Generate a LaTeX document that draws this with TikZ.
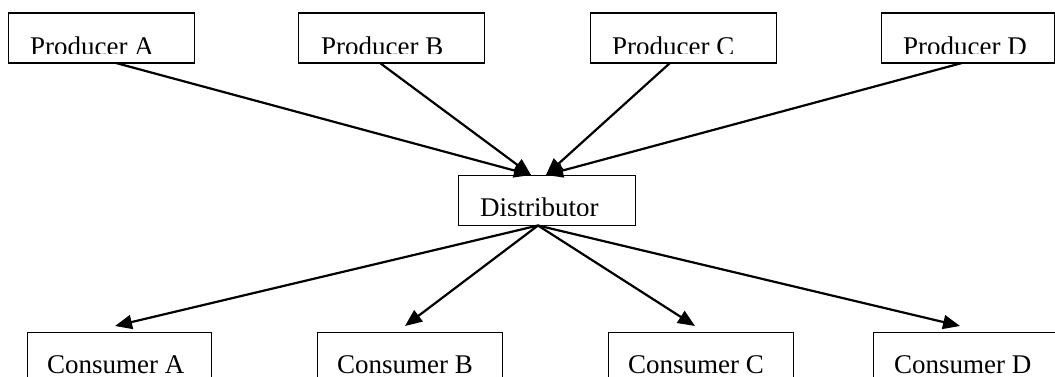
\documentclass[tikz,border=0pt]{standalone}
\usepackage{fontspec}
\setmainfont{Liberation Serif}
\usetikzlibrary{arrows.meta}
\tikzset{
  boxshape/.style={draw=black, line width=1.4pt, rectangle, inner sep=0pt, anchor=north west},
  boxtext/.style={anchor=base west, inner sep=0pt, font=\fontsize{27}{27}\selectfont},
  flow/.style={line width=2.2pt, -{Triangle[length=17pt,width=14pt]}}
}
\begin{document}
\begin{tikzpicture}[x=1pt,y=-1pt]
\useasboundingbox (0,0) rectangle (1055,377);
\clip (0,0) rectangle (1055,377);
\fill[white] (0,0) rectangle (1055,377);

% Producer boxes
\node[boxshape, minimum width=186pt, minimum height=50pt] (pA) at (8,12.5) {};
\node[boxshape, minimum width=186pt, minimum height=50pt] (pB) at (298,12.5) {};
\node[boxshape, minimum width=186pt, minimum height=50pt] (pC) at (590,12.5) {};
\node[boxshape, minimum width=173pt, minimum height=50pt] (pD) at (881,12.5) {};
% Distributor
\node[boxshape, minimum width=177pt, minimum height=50pt] (dist) at (458,175) {};
% Consumer boxes
\node[boxshape, minimum width=184pt, minimum height=60pt] (cA) at (27,332) {};
\node[boxshape, minimum width=185pt, minimum height=60pt] (cB) at (317,332) {};
\node[boxshape, minimum width=185pt, minimum height=60pt] (cC) at (608,332) {};
\node[boxshape, minimum width=185pt, minimum height=60pt] (cD) at (873,332) {};

% Texts (clipped at the bottom like the original)
\begin{scope}
\clip (0,0) rectangle (1055,53.8);
\node[boxtext] (tpA) at (30,55.7) {Producer A};
\node[boxtext] (tpB) at (321,55.7) {Producer B};
\node[boxtext] (tpC) at (612,55.7) {Producer C};
\node[boxtext] (tpD) at (903,55.7) {Producer D};
\end{scope}
\begin{scope}
\clip (0,180) rectangle (1055,215.3);
\node[boxtext] (tdist) at (480,216.5) {Distributor};
\end{scope}
\begin{scope}
\clip (0,335) rectangle (1055,373);
\node[boxtext] (tcA) at (47,373.2) {Consumer A};
\node[boxtext] (tcB) at (337,373.2) {Consumer B};
\node[boxtext] (tcC) at (628,373.2) {Consumer C};
\node[boxtext] (tcD) at (894,373.2) {Consumer D};
\end{scope}

% Connector end points
\coordinate (sA) at (116,63);
\coordinate (sB) at (380,63);
\coordinate (sC) at (670,63);
\coordinate (sD) at (962,63);
\coordinate (inL) at (531,175);
\coordinate (inR) at (546,175);
\coordinate (out) at (538,225.5);
\coordinate (eA) at (115,326);
\coordinate (eB) at (405,326);
\coordinate (eC) at (695,326);
\coordinate (eD) at (960,326);

\draw[flow] (sA) -- (inL);
\draw[flow] (sB) -- (inL);
\draw[flow] (sC) -- (inR);
\draw[flow] (sD) -- (inR);
\draw[flow] (out) -- (eA);
\draw[flow] (out) -- (eB);
\draw[flow] (out) -- (eC);
\draw[flow] (out) -- (eD);
\end{tikzpicture}
\end{document}
